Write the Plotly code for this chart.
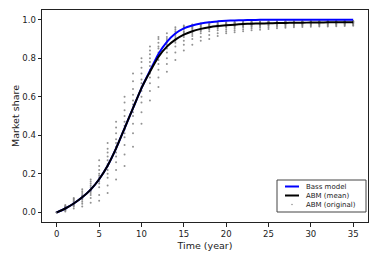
import plotly.graph_objects as go

years = list(range(0, 36))

bass_model = [0.0, 0.02, 0.046, 0.078, 0.118, 0.172, 0.242, 0.332, 0.436, 0.541, 0.645,
              0.735, 0.822, 0.885, 0.928, 0.955, 0.97, 0.98, 0.987, 0.991, 0.994,
              0.996, 0.997, 0.998, 0.999, 0.999, 1.0, 1.0, 1.0, 1.0, 1.0,
              1.0, 1.0, 1.0, 1.0, 1.0]

abm_mean = [0.0, 0.02, 0.046, 0.078, 0.118, 0.172, 0.242, 0.332, 0.436, 0.541, 0.645,
            0.73, 0.807, 0.86, 0.896, 0.922, 0.94, 0.952, 0.961, 0.967, 0.971,
            0.974, 0.977, 0.979, 0.98, 0.981, 0.982, 0.983, 0.984, 0.984, 0.985,
            0.985, 0.986, 0.986, 0.986, 0.987]

# ABM (original): simulated market share of each run, grouped by year
abm_runs_by_year = [
    [0.0] * 12,
    [0.005, 0.01, 0.012, 0.015, 0.018, 0.02, 0.022, 0.025, 0.028, 0.03, 0.033, 0.038],
    [0.02, 0.03, 0.035, 0.04, 0.045, 0.048, 0.052, 0.055, 0.06, 0.065, 0.07, 0.075],
    [0.03, 0.045, 0.055, 0.065, 0.07, 0.075, 0.08, 0.085, 0.09, 0.1, 0.11, 0.12],
    [0.05, 0.075, 0.09, 0.1, 0.11, 0.115, 0.12, 0.13, 0.14, 0.15, 0.16, 0.17],
    [0.06, 0.09, 0.13, 0.15, 0.16, 0.17, 0.18, 0.19, 0.2, 0.22, 0.24, 0.27],
    [0.1, 0.14, 0.18, 0.2, 0.22, 0.24, 0.25, 0.27, 0.29, 0.31, 0.33, 0.36],
    [0.17, 0.22, 0.26, 0.29, 0.31, 0.33, 0.34, 0.36, 0.38, 0.41, 0.44, 0.47],
    [0.24, 0.3, 0.35, 0.39, 0.41, 0.43, 0.45, 0.47, 0.5, 0.53, 0.57, 0.6],
    [0.34, 0.41, 0.46, 0.5, 0.52, 0.54, 0.56, 0.58, 0.61, 0.64, 0.68, 0.72],
    [0.46, 0.52, 0.57, 0.6, 0.63, 0.65, 0.67, 0.69, 0.72, 0.75, 0.78, 0.8],
    [0.58, 0.63, 0.67, 0.7, 0.72, 0.74, 0.76, 0.78, 0.8, 0.82, 0.84, 0.86],
    [0.65, 0.7, 0.74, 0.77, 0.79, 0.81, 0.83, 0.85, 0.86, 0.88, 0.9, 0.91],
    [0.73, 0.77, 0.8, 0.83, 0.85, 0.86, 0.87, 0.88, 0.89, 0.9, 0.91, 0.93],
    [0.79, 0.83, 0.86, 0.88, 0.89, 0.9, 0.91, 0.92, 0.93, 0.94, 0.95, 0.96],
    [0.84, 0.87, 0.89, 0.91, 0.92, 0.93, 0.935, 0.94, 0.95, 0.96, 0.965, 0.97],
    [0.87, 0.9, 0.915, 0.925, 0.935, 0.94, 0.95, 0.955, 0.96, 0.965, 0.97, 0.975],
    [0.89, 0.91, 0.93, 0.94, 0.945, 0.95, 0.955, 0.96, 0.965, 0.97, 0.975, 0.98],
    [0.9, 0.92, 0.94, 0.95, 0.955, 0.96, 0.965, 0.97, 0.972, 0.975, 0.98, 0.985],
    [0.915, 0.93, 0.945, 0.955, 0.96, 0.965, 0.97, 0.972, 0.975, 0.978, 0.982, 0.986],
    [0.93, 0.94, 0.95, 0.96, 0.965, 0.97, 0.972, 0.975, 0.978, 0.98, 0.983, 0.987],
    [0.935, 0.945, 0.955, 0.963, 0.968, 0.972, 0.975, 0.978, 0.98, 0.982, 0.985, 0.988],
    [0.94, 0.95, 0.96, 0.966, 0.97, 0.974, 0.977, 0.98, 0.982, 0.984, 0.986, 0.989],
    [0.945, 0.955, 0.963, 0.968, 0.973, 0.976, 0.979, 0.981, 0.983, 0.985, 0.987, 0.99],
    [0.948, 0.958, 0.966, 0.971, 0.975, 0.978, 0.98, 0.982, 0.984, 0.986, 0.988, 0.99],
    [0.952, 0.96, 0.968, 0.973, 0.977, 0.98, 0.982, 0.984, 0.985, 0.987, 0.989, 0.991],
    [0.955, 0.963, 0.97, 0.975, 0.978, 0.981, 0.983, 0.985, 0.986, 0.988, 0.99, 0.991],
    [0.958, 0.965, 0.971, 0.976, 0.979, 0.982, 0.984, 0.985, 0.987, 0.988, 0.99, 0.992],
    [0.96, 0.967, 0.972, 0.977, 0.98, 0.982, 0.984, 0.986, 0.987, 0.988, 0.99, 0.992],
    [0.962, 0.968, 0.973, 0.977, 0.98, 0.983, 0.985, 0.986, 0.987, 0.989, 0.99, 0.992],
    [0.963, 0.969, 0.974, 0.978, 0.981, 0.983, 0.985, 0.986, 0.988, 0.989, 0.991, 0.992],
    [0.964, 0.97, 0.975, 0.978, 0.981, 0.983, 0.985, 0.987, 0.988, 0.989, 0.991, 0.993],
    [0.965, 0.97, 0.975, 0.979, 0.982, 0.984, 0.985, 0.987, 0.988, 0.99, 0.991, 0.993],
    [0.966, 0.971, 0.976, 0.979, 0.982, 0.984, 0.986, 0.987, 0.988, 0.99, 0.991, 0.993],
    [0.967, 0.972, 0.976, 0.98, 0.982, 0.984, 0.986, 0.987, 0.989, 0.99, 0.991, 0.993],
    [0.968, 0.972, 0.977, 0.98, 0.983, 0.985, 0.986, 0.988, 0.989, 0.99, 0.992, 0.993],
]

x_ticks = [0, 5, 10, 15, 20, 25, 30, 35]
y_ticks = [0.0, 0.2, 0.4, 0.6, 0.8, 1.0]

legend_labels = ["Bass model", "ABM (mean)", "ABM (original)"]
legend_colors = ["#0000ff", "#000000", "#7f7f7f"]

dot_x = []
dot_y = []
for yr, vals in zip(years, abm_runs_by_year):
    for v in vals:
        dot_x.append(yr)
        dot_y.append(v)

FONT = "DejaVu Sans"
TXT = "#222222"
# page body has an 8px margin: the figure sits at (8, 8) in the window
OFF = 8
W, H = 379 - 2 * OFF, 259 - 2 * OFF
FL, FR, FT, FB = 42, 368, 10, 222          # target frame in window pixels
ML, MR, MT, MB = FL - OFF, W + OFF - FR, FT - OFF, H + OFF - FB
PW, PH = W - ML - MR, H - MT - MB

fig = go.Figure()
fig.add_trace(go.Scatter(
    x=dot_x, y=dot_y, mode="markers", name=legend_labels[2], showlegend=False,
    marker=dict(color=legend_colors[2], size=2, opacity=0.85, line=dict(width=0)),
))
fig.add_trace(go.Scatter(
    x=years, y=bass_model, mode="lines", name=legend_labels[0], showlegend=False,
    line=dict(color=legend_colors[0], width=2, shape="spline", smoothing=0.6),
))
fig.add_trace(go.Scatter(
    x=years, y=abm_mean, mode="lines", name=legend_labels[1], showlegend=False,
    line=dict(color=legend_colors[1], width=2, shape="spline", smoothing=0.6),
))

axis_common = dict(
    showline=True, linecolor="#222222", linewidth=1, mirror=True,
    ticks="outside", ticklen=3.5, tickwidth=1, tickcolor="#222222",
    showgrid=False, zeroline=False, automargin=False,
    tickfont=dict(family=FONT, size=8.5, color=TXT),
)

# window pixel layout converted to paper coords
def px(xp):
    return (xp - FL) / PW

def py(yp):
    return (FB - yp) / PH

shapes = [dict(type="rect", xref="paper", yref="paper",
               x0=px(277), x1=px(366), y0=py(212), y1=py(180),
               line=dict(color="#444444", width=1), fillcolor="white", layer="above")]
annotations = [dict(text="Market share", xref="paper", yref="paper",
                    x=px(15), y=py(116), xanchor="center", yanchor="middle",
                    textangle=-90, showarrow=False,
                    font=dict(family=FONT, size=9.5, color=TXT))]
row_y = [186.5, 195.5, 204.5]
for i, (lab, col) in enumerate(zip(legend_labels, legend_colors)):
    if i < 2:
        shapes.append(dict(type="line", xref="paper", yref="paper",
                           x0=px(285), x1=px(299), y0=py(row_y[i]), y1=py(row_y[i]),
                           line=dict(color=col, width=2), layer="above"))
    annotations.append(dict(text=lab, xref="paper", yref="paper",
                            x=px(304), y=py(row_y[i]), xanchor="left", yanchor="middle",
                            showarrow=False, font=dict(family=FONT, size=7, color=TXT)))

shapes.append(dict(type="circle", xref="paper", yref="paper",
                   x0=px(291.3), x1=px(292.7), y0=py(row_y[2] + 0.7), y1=py(row_y[2] - 0.7),
                   line=dict(width=0), fillcolor=legend_colors[2], layer="above"))

fig.update_layout(
    width=W, height=H,
    margin=dict(l=ML, r=MR, t=MT, b=MB, autoexpand=False),
    paper_bgcolor="white", plot_bgcolor="white",
    font=dict(family=FONT, color=TXT),
    xaxis=dict(range=[-1.75, 36.75], tickvals=x_ticks,
               title=dict(text="Time (year)", font=dict(family=FONT, size=9.5, color=TXT), standoff=4),
               **axis_common),
    yaxis=dict(range=[-0.05, 1.05], tickvals=y_ticks, tickformat=".1f",
               **axis_common),
    shapes=shapes,
    annotations=annotations,
    showlegend=False,
)

fig.write_html("out.html")
